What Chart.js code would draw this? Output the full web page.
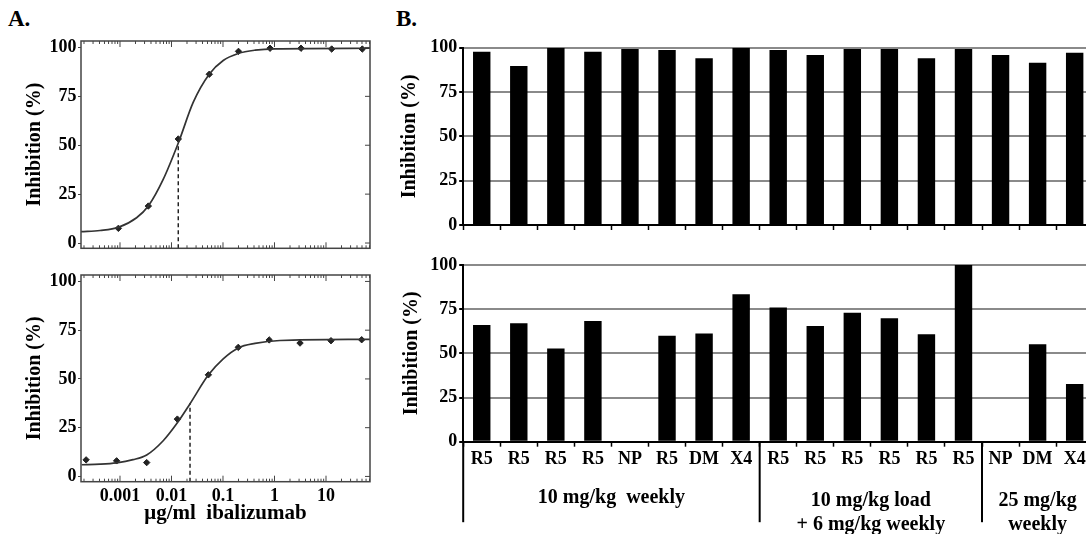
<!DOCTYPE html>
<html><head><meta charset="utf-8">
<script src="https://cdn.jsdelivr.net/npm/chart.js@4.4.1/dist/chart.umd.min.js"></script>
<style>
html,body{margin:0;padding:0;background:#fff;overflow:hidden;width:1086px;height:534px;}
#wrap{position:relative;width:1086px;height:534px;overflow:hidden;background:#fff;}
canvas{position:absolute;}
.lbl{position:absolute;font-family:'Liberation Serif',serif;font-weight:bold;font-size:23px;color:#000;line-height:26px;}
</style></head><body><div id="wrap">
<div class="lbl" style="left:8px;top:6px">A.</div>
<div class="lbl" style="left:396px;top:6px">B.</div>
<canvas id="a1" width="400" height="262" style="left:0;top:0"></canvas>
<canvas id="a2" width="400" height="272" style="left:0;top:262px"></canvas>
<canvas id="b1" width="710" height="240" style="left:390px;top:0"></canvas>
<canvas id="b2" width="710" height="284" style="left:390px;top:250px"></canvas>
</div>
<script>
// ---------- Panel A data (μg/ml ibalizumab vs inhibition %) ----------
const concTopPoints   = [0.00093, 0.00355, 0.01355, 0.0542, 0.2, 0.82, 3.27, 12.9, 50.7];
const inhibTopPoints  = [7.5, 18.9, 53.2, 86.3, 98, 99.6, 99.6, 99.2, 99.2];
const concTopCurve    = [1.75e-4, 4.1e-4, 9.3e-4, 2.1e-3, 3.55e-3, 6.9e-3, 0.0135, 0.0265, 0.054, 0.101, 0.198, 0.42, 1.02, 71.5];
const inhibTopCurve   = [5.8, 6.4, 8.0, 12.9, 18.9, 32.5, 51, 72, 86.3, 93.3, 96.9, 98.6, 99.3, 99.6];
const ic50Top         = [0.01355, 50];

const concBottomPoints  = [0.00022, 0.00086, 0.0033, 0.013, 0.052, 0.198, 0.79, 3.13, 12.5, 49.3];
const inhibBottomPoints = [8.5, 8.0, 7.1, 29.4, 52.1, 66.2, 70, 68.4, 69.6, 70.1];
const concBottomCurve   = [1.8e-4, 4.1e-4, 8.6e-4, 1.79e-3, 3.3e-3, 6.9e-3, 0.013, 0.0229, 0.0519, 0.101, 0.198, 0.418, 1.28, 71.5];
const inhibBottomCurve  = [6.0, 6.3, 7.0, 8.6, 11, 18.3, 27.5, 37.3, 52, 60.3, 65.9, 68.2, 69.7, 70.3];
const ic50Bottom        = [0.0229, 37.5];

const xTickValuesA = [0.001, 0.01, 0.1, 1, 10];
const xTickLabelsA = ['0.001', '0.01', '0.1', '1', '10'];
const yTicksA = [0, 25, 50, 75, 100];

// ---------- Panel B data ----------
const categories   = ['R5','R5','R5','R5','NP','R5','DM','X4','R5','R5','R5','R5','R5','R5','NP','DM','X4'];
const topValues    = [97.7, 89.7, 100, 97.7, 99.3, 98.7, 94, 100, 98.7, 95.9, 99.3, 99.3, 94, 99.3, 95.9, 91.5, 97.2];
const bottomValues = [66, 67, 52.8, 68.3, null, 60, 61.3, 83.4, 76, 65.5, 73, 69.8, 60.8, 100, null, 55.1, 32.7];
const groupLabels  = [['10 mg/kg  weekly'], ['10 mg/kg load', '+ 6 mg/kg weekly'], ['25 mg/kg', 'weekly']];
const groupSizes   = [8, 6, 3];
const yTicksB = [0, 25, 50, 75, 100];

Chart.defaults.font.family = "'Liberation Serif', 'Times New Roman', serif";
Chart.defaults.font.weight = 'bold';
Chart.defaults.color = '#000';
Chart.defaults.animation = false;

const xMinA = 1.75e-4, xMaxA = 71.5, yMinA = -2.7, yMaxA = 103.3;

const frameTicks = {
  id: 'frameTicks',
  afterDatasetsDraw(chart) {
    const {ctx, chartArea: a, scales: {x, y}} = chart;
    ctx.save();
    ctx.strokeStyle = '#444';
    ctx.lineWidth = 1.5;
    ctx.strokeRect(a.left, a.top, a.right - a.left, a.bottom - a.top);
    ctx.lineWidth = 1;
    const line = (x1, y1, x2, y2) => { ctx.beginPath(); ctx.moveTo(x1, y1); ctx.lineTo(x2, y2); ctx.stroke(); };
    for (let e = -4; e <= 2; e++) {
      for (let m = 1; m <= 9; m++) {
        const v = m * Math.pow(10, e);
        if (v < x.min || v > x.max) continue;
        const px = x.getPixelForValue(v);
        const L = m === 1 ? 6 : 3;
        line(px, a.bottom, px, a.bottom - L);
        line(px, a.top, px, a.top + L);
      }
    }
    yTicksA.forEach(v => {
      const py = y.getPixelForValue(v);
      line(a.right, py, a.right - 5, py);
    });
    ctx.restore();
  }
};

function makeA(id, cP, iP, cC, iC, ic50, showX, padTop, xHeight) {
  new Chart(document.getElementById(id), {
    type: 'scatter',
    data: {
      datasets: [
        { data: cC.map((c, i) => ({x: c, y: iC[i]})), showLine: true, borderColor: '#333', borderWidth: 1.7,
          pointRadius: 0, cubicInterpolationMode: 'monotone', fill: false },
        { data: [{x: ic50[0], y: yMinA}, {x: ic50[0], y: ic50[1]}], showLine: true, borderColor: '#222',
          borderWidth: 1.5, borderDash: [4, 3], pointRadius: 0 },
        { data: cP.map((c, i) => ({x: c, y: iP[i]})), showLine: false, pointStyle: 'rectRot', pointRadius: 3.2,
          backgroundColor: '#222', borderColor: '#222', borderWidth: 1 }
      ]
    },
    options: {
      responsive: false, devicePixelRatio: 1,
      layout: { padding: { top: padTop, right: 30, left: 0, bottom: 0 } },
      plugins: { legend: { display: false }, tooltip: { enabled: false } },
      scales: {
        x: {
          type: 'logarithmic', min: xMinA, max: xMaxA,
          grid: { display: false, drawTicks: false }, border: { display: false },
          afterBuildTicks: s => { s.ticks = xTickValuesA.map(v => ({value: v})); },
          afterFit: s => { s.height = xHeight; },
          ticks: { display: showX, autoSkip: false, maxRotation: 0, padding: 4, font: { size: 18 },
            callback: v => { const i = xTickValuesA.indexOf(v); return i >= 0 ? xTickLabelsA[i] : ''; } },
          title: { display: showX, text: 'μg/ml  ibalizumab', font: { size: 21 }, padding: { top: 0, bottom: 8 } }
        },
        y: {
          min: yMinA, max: yMaxA,
          grid: { drawOnChartArea: false, drawTicks: true, tickLength: 3, tickColor: '#444' }, border: { display: false },
          afterBuildTicks: s => { s.ticks = yTicksA.map(v => ({value: v})); },
          afterFit: s => { s.width = 81; },
          ticks: { padding: 1.5, font: { size: 18 } },
          title: { display: true, text: 'Inhibition (%)', font: { size: 20 }, padding: { top: 23, bottom: 0 } }
        }
      }
    },
    plugins: [frameTicks]
  });
}

makeA('a1', concTopPoints, inhibTopPoints, concTopCurve, inhibTopCurve, ic50Top, false, 41, 13.7);
makeA('a2', concBottomPoints, inhibBottomPoints, concBottomCurve, inhibBottomCurve, ic50Bottom, true, 13, 52.3);

const groupPlugin = {
  id: 'groups',
  afterDraw(chart) {
    const {ctx, chartArea: a, scales: {x}} = chart;
    const step = x.getPixelForValue(1) - x.getPixelForValue(0);
    ctx.save();
    ctx.strokeStyle = '#000';
    ctx.lineWidth = 2;
    ctx.fillStyle = '#000';
    ctx.font = "bold 20px 'Liberation Serif', serif";
    ctx.textAlign = 'center';
    ctx.textBaseline = 'middle';
    let start = 0;
    groupSizes.forEach((n, g) => {
      const left = x.getPixelForValue(start) - step / 2;
      const right = x.getPixelForValue(start + n - 1) + step / 2;
      ctx.beginPath(); ctx.moveTo(left, a.bottom); ctx.lineTo(left, a.bottom + 80.5); ctx.stroke();
      const lines = groupLabels[g];
      const cx = (left + right) / 2;
      lines.forEach((t, i) => {
        const yy = lines.length === 1 ? a.bottom + 56.5 : a.bottom + 59.5 + i * 23.5;
        ctx.fillText(t, cx, yy);
      });
      start += n;
    });
    ctx.restore();
  }
};

function makeB(id, values, showLabels, padTop, xHeight, titlePad, plugins) {
  new Chart(document.getElementById(id), {
    type: 'bar',
    data: { labels: categories, datasets: [{ data: values, backgroundColor: '#000', borderWidth: 0,
      barPercentage: 0.47, categoryPercentage: 1.0 }] },
    options: {
      responsive: false, devicePixelRatio: 1,
      layout: { padding: { top: padTop, right: 6.8, left: 0, bottom: 0 } },
      plugins: { legend: { display: false }, tooltip: { enabled: false } },
      scales: {
        x: {
          grid: { display: true, drawOnChartArea: false, drawTicks: true, tickLength: 5, tickColor: '#000', tickWidth: 1.5, offset: true },
          border: { display: true, color: '#000', width: 2 },
          afterFit: s => { s.height = xHeight; },
          ticks: { display: showLabels, autoSkip: false, maxRotation: 0, padding: 1.5, font: { size: 18 } }
        },
        y: {
          min: 0, max: 100,
          grid: { color: c => (c.tick && c.tick.value === 0) ? 'rgba(0,0,0,0)' : '#8a8a8a', lineWidth: 2,
            tickColor: '#000', tickLength: 4, drawTicks: true },
          border: { display: true, color: '#000', width: 2 },
          afterBuildTicks: s => { s.ticks = yTicksB.map(v => ({value: v})); },
          afterFit: s => { s.width = 73.2; },
          ticks: { padding: 2, font: { size: 18 } },
          title: { display: true, text: 'Inhibition (%)', font: { size: 20 }, padding: { top: titlePad, bottom: 0 } }
        }
      }
    },
    plugins: plugins
  });
}

makeB('b1', topValues, false, 47.7, 15, 8, []);
makeB('b2', bottomValues, true, 15, 92.3, 9.7, [groupPlugin]);
</script>
</body></html>
